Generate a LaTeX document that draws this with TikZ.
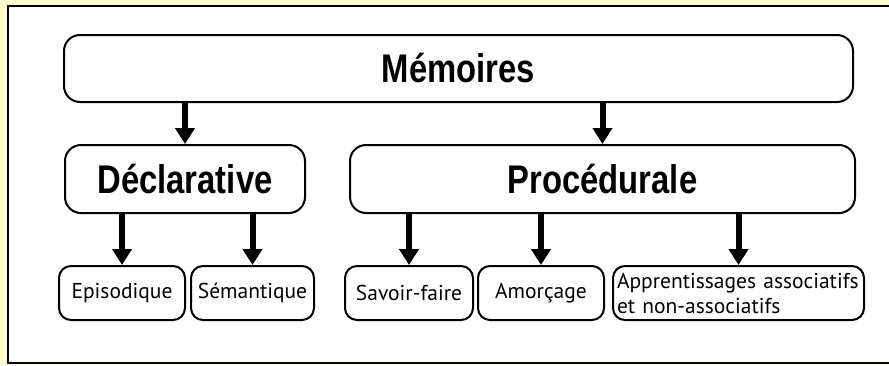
\documentclass[tikz,border=0pt]{standalone}
\usepackage{fontspec}
\setmainfont{PT Sans}
\newfontfamily\headfont[FakeStretch=0.82]{Liberation Sans Bold}
\usetikzlibrary{positioning,arrows.meta}
\definecolor{paper}{HTML}{FFFFCC}

\begin{document}
\begin{tikzpicture}[x=1pt,y=1pt]
    \tikzstyle{head} = [rectangle, draw, rounded corners=16pt, line width=2pt, inner sep=0pt, minimum height=68pt, font=\headfont\fontsize{40}{44}\selectfont]
    \tikzstyle{leaf} = [rectangle, draw, rounded corners=12pt, line width=2pt, inner sep=0pt, minimum height=54pt, font=\fontsize{21.5}{25}\selectfont]
    \tikzstyle{arr} = [-{Triangle[width=19pt,length=16pt]}, line width=6pt]

    % page and frame
    \useasboundingbox (0,0) rectangle (889,-365);
    \fill[paper] (0,0) rectangle (889,-365);
    \draw[line width=2.5pt, fill=white] (8,-6) rectangle (900,-363);

    \node [head, minimum width=789pt, minimum height=67pt] (mem) at (458.5,-68.5) {Mémoires};
    \node [head, minimum width=240pt, below=41pt of mem, xshift=-273.5pt] (decl) {Déclarative};
    \node [head, minimum width=505pt, below=41pt of mem, xshift=144pt] (proc) {Procédurale};

    \node [leaf, minimum width=126pt, below=51pt of decl, xshift=-63pt] (episo) {Episodique};
    \node [leaf, minimum width=123pt, right=4pt of episo] (sem) {Sémantique};
    \node [leaf, minimum width=128pt, below=51pt of proc, xshift=-193.5pt] (savoir) {Savoir-faire};
    \node [leaf, minimum width=126pt, right=3pt of savoir] (amorc) {Amorçage};
    \node [leaf, minimum width=251pt, right=7pt of amorc, inner xsep=4pt, text width=243pt, align=left] (appr) {Apprentissages associatifs\\et non-associatifs};

    \draw[arr] (mem.south -| decl.north) -- (decl.north);
    \draw[arr] (mem.south -| proc.north) -- (proc.north);
    \draw[arr] (decl.south -| episo.north) -- (episo.north);
    \draw[arr] (decl.south -| sem.north) -- (sem.north);
    \draw[arr] (proc.south -| savoir.north) -- (savoir.north);
    \draw[arr] (proc.south -| amorc.north) -- (amorc.north);
    \draw[arr] (proc.south -| appr.north) -- (appr.north);
\end{tikzpicture}
\end{document}
